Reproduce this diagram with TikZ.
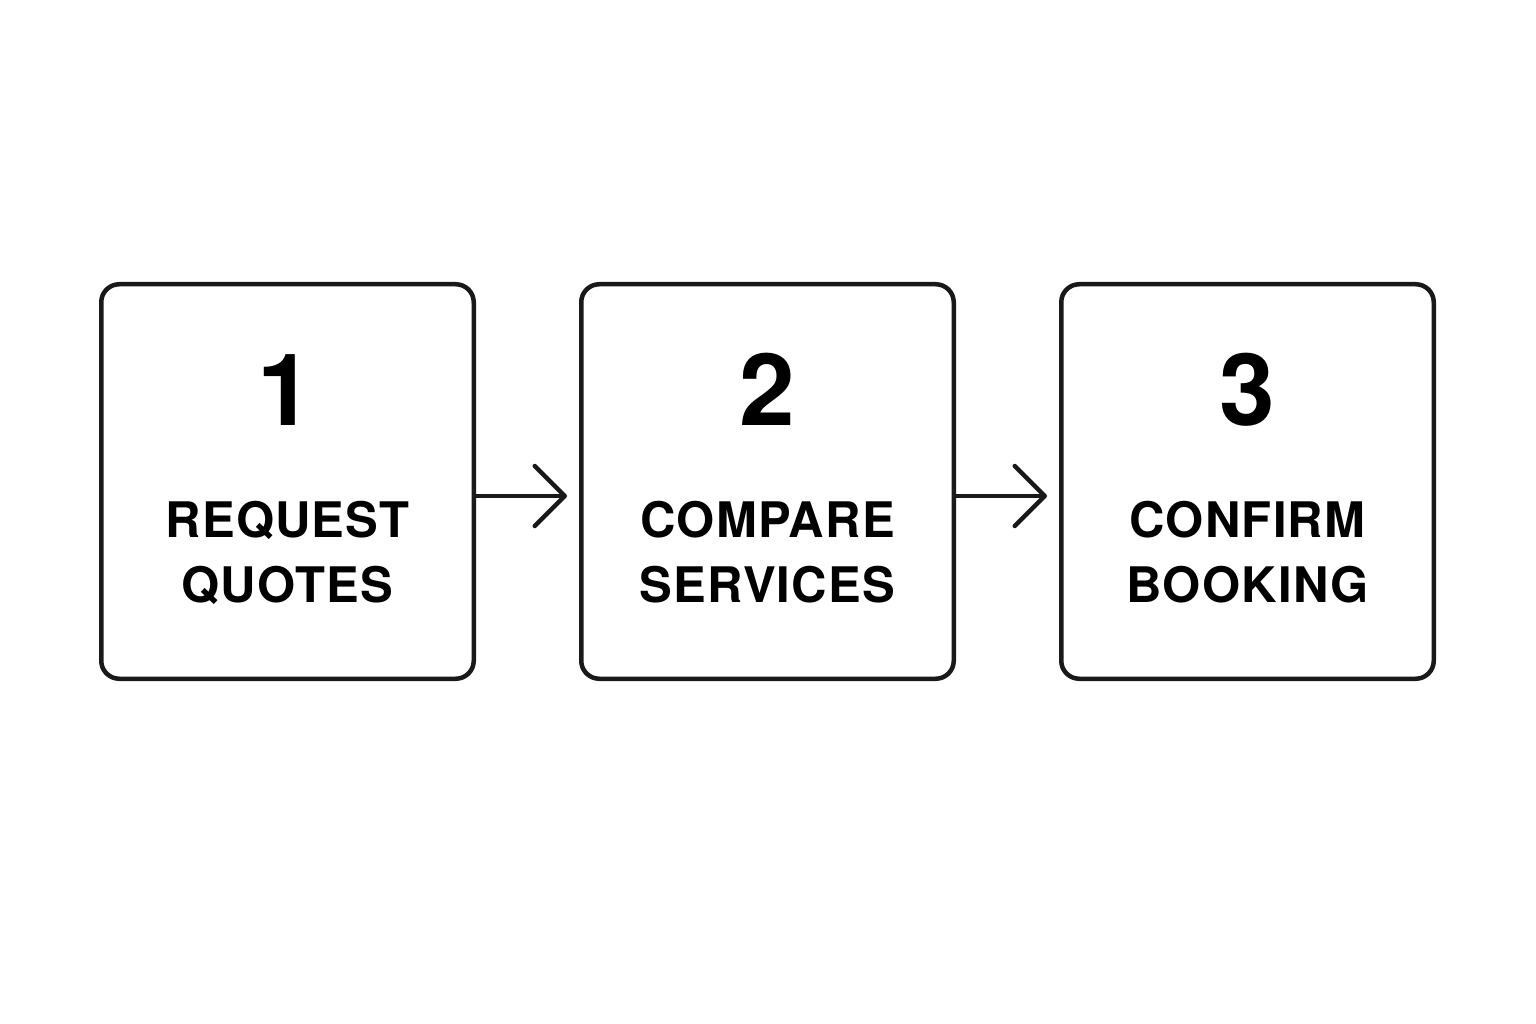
\documentclass[tikz,border=0pt]{standalone}
\usepackage{fontspec}
\setmainfont{TeX Gyre Heros}[LetterSpace=2.5]
\usetikzlibrary{arrows.meta}
\begin{document}
\begin{tikzpicture}[x=1pt,y=-1pt,
  stepbox/.style={draw=black!90, line width=4.5pt, rounded corners=18pt, minimum width=372.5pt, minimum height=394.5pt, inner sep=0pt},
  numtxt/.style={anchor=base, inner sep=0pt, font=\fontsize{100}{100}\selectfont\bfseries},
  lbltxt/.style={anchor=base, inner sep=0pt, font=\fontsize{49}{49}\selectfont\bfseries},
  flow/.style={line width=4.5pt, draw=black!90, -{Straight Barb[length=30pt,width=60pt,line width=4.5pt,round]}, shorten >=12pt}]
\useasboundingbox[fill=white] (0,0) rectangle (1536,1024);
\node[stepbox] (b1) at (287.5,481.5) {};
\node[stepbox] (b2) at (767.5,481.5) {};
\node[stepbox] (b3) at (1247.5,481.5) {};
\node[numtxt] (n1) at (285,425) {1};
\node[numtxt] (n2) at (767.5,425) {2};
\node[numtxt] (n3) at (1247.5,425) {3};
\node[lbltxt] (l1a) at (287.5,537) {REQUEST};
\node[lbltxt] (l1b) at (287.5,602) {QUOTES};
\node[lbltxt] (l2a) at (767.5,537) {COMPARE};
\node[lbltxt] (l2b) at (767.5,602) {SERVICES};
\node[lbltxt] (l3a) at (1247.5,537) {CONFIRM};
\node[lbltxt] (l3b) at (1247.5,602) {BOOKING};
\draw[flow] (b1.east |- 0,496) -- (b2.west |- 0,496);
\draw[flow] (b2.east |- 0,496) -- (b3.west |- 0,496);
\end{tikzpicture}
\end{document}
